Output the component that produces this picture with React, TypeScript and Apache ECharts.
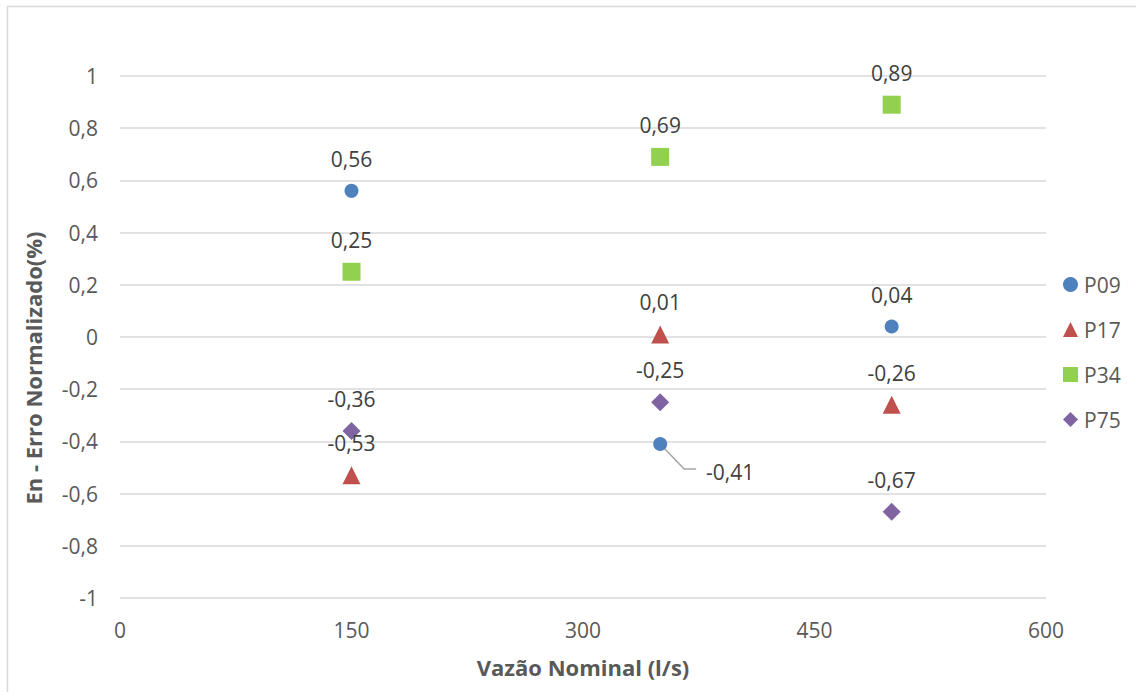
import React, { useEffect, useRef } from "react";
import * as echarts from "echarts";

const xValues = [150, 350, 500];
const seriesNames = ["P09", "P17", "P34", "P75"];
const p09 = [0.56, -0.41, 0.04];
const p17 = [-0.53, 0.01, -0.26];
const p34 = [0.25, 0.69, 0.89];
const p75 = [-0.36, -0.25, -0.67];
const yTicks = { min: -1, max: 1, interval: 0.2 };
const xTicks = { min: 0, max: 600, interval: 150 };
const xTitle = "Vazão Nominal (l/s)";
const yTitle = "En - Erro Normalizado(%)";

const colors = ["#4F81BD", "#C0504D", "#92D050", "#8064A2"];
const symbols = ["circle", "triangle", "rect", "diamond"];
const sizes = [14, 18, 18, 18];
const FONT = "'Open Sans', Lato, sans-serif";
const FS = 21;

const fmt = (v: number) => String(+v.toFixed(2)).replace(".", ",");

export default function App() {
  const ref = useRef<HTMLDivElement>(null);
  useEffect(() => {
    document.body.style.margin = "0";
    const chart = echarts.init(ref.current!, null, { renderer: "svg" });
    const all = [p09, p17, p34, p75];
    const series = seriesNames.map((name, si) => ({
      name,
      type: "scatter",
      symbol: symbols[si],
      symbolSize: sizes[si],
      itemStyle: { color: colors[si], opacity: 1 },
      data: xValues.map((x, i) => {
        const isSpecial = si === 0 && i === 1;
        return {
          value: [x, all[si][i]],
          label: {
            show: true,
            position: "inside",
            offset: isSpecial ? [70, 28] : [0, -32],
            formatter: () => fmt(all[si][i]),
            color: "#404040",
            fontSize: FS,
            fontFamily: FONT,
          },
        };
      }),
    }));
    const border = {
      type: "rect",
      shape: { x: 7.5, y: 6.5, width: 1140, height: 700 },
      style: { fill: "none", stroke: "#d9d9d9", lineWidth: 1.5 },
      silent: true,
    };
    const yTitleEl = {
      type: "text",
      x: 33,
      y: 368,
      rotation: Math.PI / 2,
      style: {
        text: yTitle,
        fill: "#595959",
        font: `bold 22px ${FONT}`,
        align: "center",
        verticalAlign: "middle",
      },
      silent: true,
    };
    const option: any = {
      animation: false,
      textStyle: { fontFamily: FONT },
      graphic: [border, yTitleEl],
      grid: { left: 120, right: 90, top: 76, bottom: 94 },
      legend: {
        orient: "vertical",
        left: 1058,
        top: 269,
        itemWidth: 15,
        itemHeight: 15,
        itemGap: 24,
        data: seriesNames.map((n, i) => ({ name: n, icon: symbols[i] })),
        textStyle: { color: "#595959", fontSize: FS, lineHeight: 21, fontFamily: FONT, padding: [0, 0, 0, 1] },
      },
      xAxis: {
        type: "value",
        min: xTicks.min,
        max: xTicks.max,
        interval: xTicks.interval,
        splitLine: { show: false },
        axisLine: { show: false },
        axisTick: { show: false },
        axisLabel: { color: "#595959", fontSize: FS, margin: 21, fontFamily: FONT },
        name: xTitle,
        nameLocation: "middle",
        nameGap: 58,
        nameTextStyle: { color: "#595959", fontSize: 22, fontWeight: "bold", fontFamily: FONT },
      },
      yAxis: {
        type: "value",
        min: yTicks.min,
        max: yTicks.max,
        interval: yTicks.interval,
        splitLine: { lineStyle: { color: "#d9d9d9", width: 1.5 } },
        axisLine: { show: false },
        axisTick: { show: false },
        axisLabel: {
          color: "#595959",
          fontSize: FS,
          margin: 22,
          fontFamily: FONT,
          formatter: (v: number) => fmt(v),
        },
      },
      series,
    };
    chart.setOption(option);
    const p = chart.convertToPixel({ gridIndex: 0 }, [xValues[1], p09[1]]) as number[];
    chart.setOption({
      graphic: [
        border,
        yTitleEl,
        {
          type: "polyline",
          shape: { points: [[p[0], p[1]], [p[0] + 24, p[1] + 25], [p[0] + 36, p[1] + 25]] },
          style: { fill: "none", stroke: "#a6a6a6", lineWidth: 1.5 },
          z: 1,
          silent: true,
        },
      ],
    });
    return () => chart.dispose();
  }, []);
  return <div ref={ref} style={{ width: 1136, height: 692 }} />;
}
